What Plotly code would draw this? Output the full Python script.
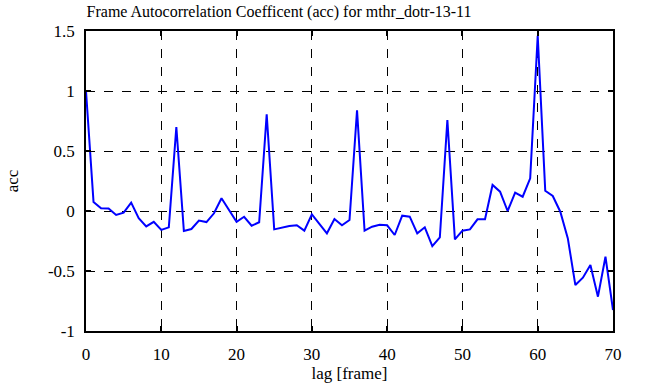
import plotly.graph_objects as go

lags = list(range(71))
acc = [1.0, 0.075, 0.022, 0.02, -0.033, -0.014, 0.07, -0.06, -0.128, -0.09,
       -0.158, -0.136, 0.70, -0.167, -0.15, -0.08, -0.092, -0.019, 0.106, 0.008,
       -0.09, -0.048, -0.123, -0.094, 0.806, -0.153, -0.139, -0.125, -0.119, -0.164,
       -0.028, -0.103, -0.186, -0.067, -0.119, -0.075, 0.84, -0.164, -0.131, -0.114,
       -0.119, -0.2, -0.039, -0.047, -0.186, -0.136, -0.292, -0.219, 0.758, -0.236,
       -0.164, -0.153, -0.069, -0.069, 0.217, 0.161, 0.0, 0.153, 0.119, 0.272,
       1.46, 0.169, 0.125, -0.006, -0.228, -0.617, -0.556, -0.45, -0.714, -0.381,
       -0.825]
xticks = [0, 10, 20, 30, 40, 50, 60, 70]
yticks = [-1, -0.5, 0, 0.5, 1, 1.5]
ytext = ["-1", "-0.5", "0", "0.5", "1", "1.5"]

font = "Liberation Serif"
fig = go.Figure(go.Scatter(x=lags, y=acc, mode="lines",
                           line=dict(color="#0000ff", width=2)))
axis_common = dict(showline=True, linecolor="black", linewidth=1.5, mirror="ticks",
                   ticks="inside", ticklen=5, tickcolor="black", tickwidth=1.5,
                   showgrid=True, gridcolor="black", griddash="dash", gridwidth=1,
                   zeroline=False, automargin=False,
                   tickfont=dict(family=font, size=17, color="black"))
fig.update_xaxes(range=[0, 70], tickvals=xticks, ticktext=[str(v) for v in xticks],
                 ticklabelstandoff=7,
                 title=dict(text="lag [frame]", font=dict(family=font, size=17, color="black"),
                            standoff=2), **axis_common)
fig.update_yaxes(range=[-1, 1.5], tickvals=yticks, ticktext=ytext,
                 ticklabelstandoff=6,
                 title=dict(text="acc", font=dict(family=font, size=17, color="black"),
                            standoff=25), **axis_common)
fig.update_layout(width=651, height=387, plot_bgcolor="white", paper_bgcolor="white",
                  margin=dict(l=86, r=38, t=31, b=56, autoexpand=False), showlegend=False,
                  title=dict(text="Frame Autocorrelation Coefficent (acc) for mthr_dotr-13-11",
                             font=dict(family=font, size=16, color="black"),
                             x=279 / 651, xanchor="center", xref="container",
                             y=1 - 11 / 387, yanchor="middle"))
fig.write_html("out.html", config={"displayModeBar": False},
               post_script="document.body.style.margin='0';document.body.style.overflow='hidden';")
